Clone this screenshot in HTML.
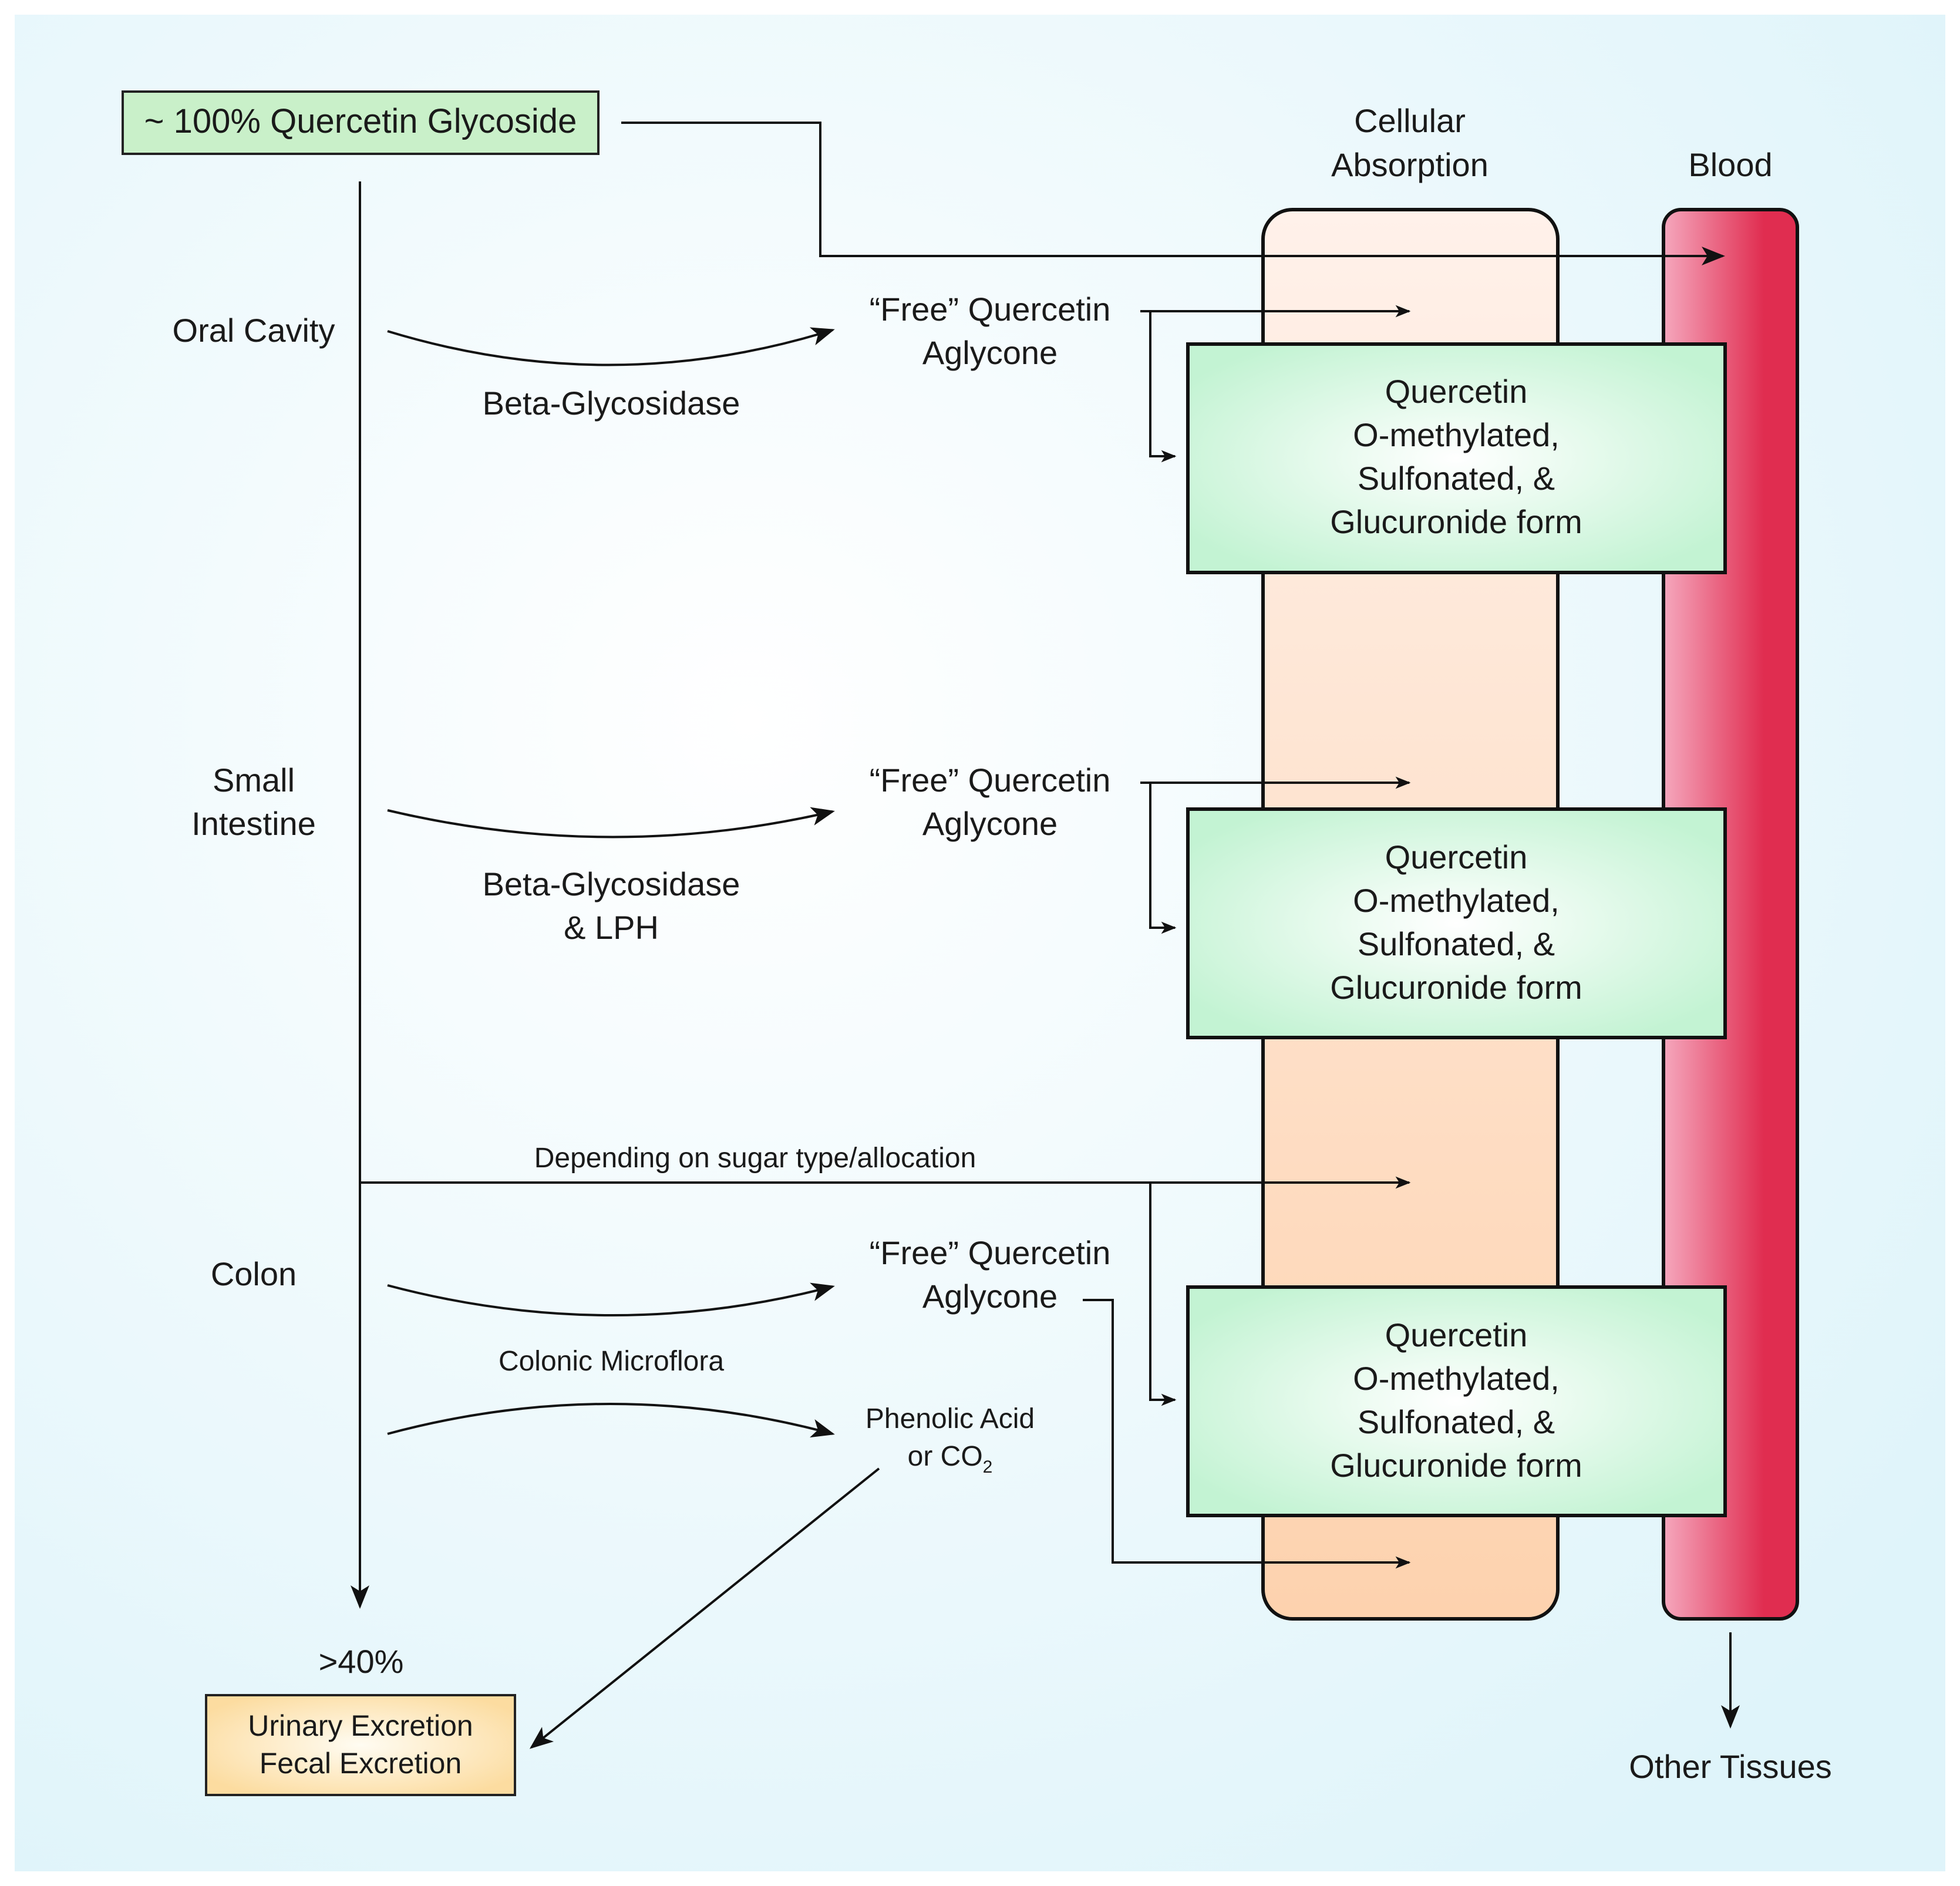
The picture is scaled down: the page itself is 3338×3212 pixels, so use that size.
<!DOCTYPE html>
<html><head><meta charset="utf-8"><style>
html,body{margin:0;padding:0;background:#fff}
svg{display:block}
text{font-family:"Liberation Sans",sans-serif;fill:#1a1a1a}
</style></head><body>
<svg width="3338" height="3212" viewBox="0 0 3338 3212" xmlns="http://www.w3.org/2000/svg">
<defs>
<radialGradient id="bg" cx="0.38" cy="0.38" r="0.75">
<stop offset="0" stop-color="#ffffff"/><stop offset="1" stop-color="#dff4fa"/></radialGradient>
<linearGradient id="cell" x1="0" y1="0" x2="0" y2="1">
<stop offset="0" stop-color="#fff1ea"/><stop offset="1" stop-color="#fdd2ae"/></linearGradient>
<linearGradient id="blood" x1="0" y1="0" x2="1" y2="0">
<stop offset="0" stop-color="#f5a7bd"/><stop offset="0.75" stop-color="#e02d50"/><stop offset="1" stop-color="#e02d50"/></linearGradient>
<radialGradient id="green" cx="0.5" cy="0.5" r="0.6">
<stop offset="0" stop-color="#ffffff"/><stop offset="1" stop-color="#c3f3d3"/></radialGradient>
<radialGradient id="yel" cx="0.5" cy="0.5" r="0.6">
<stop offset="0" stop-color="#fffcf2"/><stop offset="1" stop-color="#fcdca0"/></radialGradient>
<marker id="a" markerWidth="10" markerHeight="10" refX="9" refY="5" orient="auto" markerUnits="userSpaceOnUse" viewBox="0 0 10 10">
<path d="M0,0 L10,5 L0,10 L3,5 Z" fill="#111"/></marker>
<marker id="A" viewBox="0 0 10 10" refX="9" refY="5" markerWidth="40" markerHeight="40" orient="auto" markerUnits="userSpaceOnUse">
<path d="M0,1 L10,5 L0,9 L2.5,5 Z" fill="#111"/></marker>
<marker id="s" viewBox="0 0 10 10" refX="9" refY="5" markerWidth="26" markerHeight="26" orient="auto" markerUnits="userSpaceOnUse">
<path d="M0,1 L10,5 L0,9 L2.5,5 Z" fill="#111"/></marker>
</defs>
<rect x="0" y="0" width="3338" height="3212" fill="#fff"/>
<rect x="25" y="25" width="3288" height="3162" fill="url(#bg)"/>

<!-- tubes -->
<rect x="2151" y="357" width="502" height="2400" rx="50" fill="url(#cell)" stroke="#111" stroke-width="6"/>
<rect x="2833" y="357" width="228" height="2400" rx="30" fill="url(#blood)" stroke="#111" stroke-width="6"/>
<text x="2401" y="225" font-size="56" text-anchor="middle">Cellular</text>
<text x="2401" y="300" font-size="56" text-anchor="middle">Absorption</text>
<text x="2947" y="300" font-size="56" text-anchor="middle">Blood</text>

<!-- top box -->
<rect x="209" y="156" width="810" height="106" fill="#c9f0c9" stroke="#222" stroke-width="4"/>
<text x="614" y="226" font-size="58" text-anchor="middle">~ 100% Quercetin Glycoside</text>

<g stroke="#111" stroke-width="4" fill="none">
<polyline points="1058,209 1397,209 1397,436 2934,436" marker-end="url(#A)"/>
<line x1="613" y1="309" x2="613" y2="2736" marker-end="url(#A)"/>
<!-- curves -->
<path d="M660,564 Q1040,680 1418,562" marker-end="url(#A)"/>
<path d="M660,1380 Q1040,1470 1418,1382" marker-end="url(#A)"/>
<path d="M660,2189 Q1040,2290 1418,2191" marker-end="url(#A)"/>
<path d="M660,2442 Q1040,2340 1418,2442" marker-end="url(#A)"/>
<!-- free branches -->
<line x1="1942" y1="530" x2="2400" y2="530" marker-end="url(#s)"/>
<polyline points="1959,530 1959,777 2001,777" marker-end="url(#s)"/>
<line x1="1942" y1="1333" x2="2400" y2="1333" marker-end="url(#s)"/>
<polyline points="1959,1333 1959,1580 2001,1580" marker-end="url(#s)"/>
<line x1="613" y1="2014" x2="2400" y2="2014" marker-end="url(#s)"/>
<polyline points="1959,2014 1959,2384 2001,2384" marker-end="url(#s)"/>
<polyline points="1844,2214 1895,2214 1895,2661 2400,2661" marker-end="url(#s)"/>
<line x1="1497" y1="2501" x2="905" y2="2976" marker-end="url(#A)"/>
<line x1="2947" y1="2780" x2="2947" y2="2940" marker-end="url(#A)"/>
</g>

<!-- green boxes -->
<g>
<rect x="2023" y="586" width="915" height="389" fill="url(#green)" stroke="#111" stroke-width="6"/>
<rect x="2023" y="1378" width="915" height="389" fill="url(#green)" stroke="#111" stroke-width="6"/>
<rect x="2023" y="2192" width="915" height="389" fill="url(#green)" stroke="#111" stroke-width="6"/>
</g>
<g font-size="56" text-anchor="middle">
<text x="2480" y="686">Quercetin</text><text x="2480" y="760">O-methylated,</text><text x="2480" y="834">Sulfonated, &amp;</text><text x="2480" y="908">Glucuronide form</text>
<text x="2480" y="1479">Quercetin</text><text x="2480" y="1553">O-methylated,</text><text x="2480" y="1627">Sulfonated, &amp;</text><text x="2480" y="1701">Glucuronide form</text>
<text x="2480" y="2293">Quercetin</text><text x="2480" y="2367">O-methylated,</text><text x="2480" y="2441">Sulfonated, &amp;</text><text x="2480" y="2515">Glucuronide form</text>

<text x="432" y="582">Oral Cavity</text>
<text x="432" y="1348">Small</text><text x="432" y="1422">Intestine</text>
<text x="432" y="2189">Colon</text>
<text x="1041" y="706">Beta-Glycosidase</text>
<text x="1041" y="1525">Beta-Glycosidase</text><text x="1041" y="1599">&amp; LPH</text>
<text x="1686" y="546">“Free” Quercetin</text><text x="1686" y="620">Aglycone</text>
<text x="1686" y="1348">“Free” Quercetin</text><text x="1686" y="1422">Aglycone</text>
<text x="1686" y="2153">“Free” Quercetin</text><text x="1686" y="2227">Aglycone</text>
<text x="615" y="2849">&gt;40%</text>
<text x="2947" y="3028">Other Tissues</text>
</g>
<g font-size="48" text-anchor="middle">
<text x="1286" y="1988">Depending on sugar type/allocation</text>
<text x="1041" y="2334">Colonic Microflora</text>
<text x="1618" y="2432">Phenolic Acid</text>
<text x="1618" y="2496">or CO<tspan font-size="30" dy="12">2</tspan></text>
</g>

<rect x="351" y="2887" width="526" height="170" fill="url(#yel)" stroke="#222" stroke-width="4"/>
<g font-size="50" text-anchor="middle">
<text x="614" y="2956">Urinary Excretion</text>
<text x="614" y="3020">Fecal Excretion</text>
</g>
</svg>
</body></html>
